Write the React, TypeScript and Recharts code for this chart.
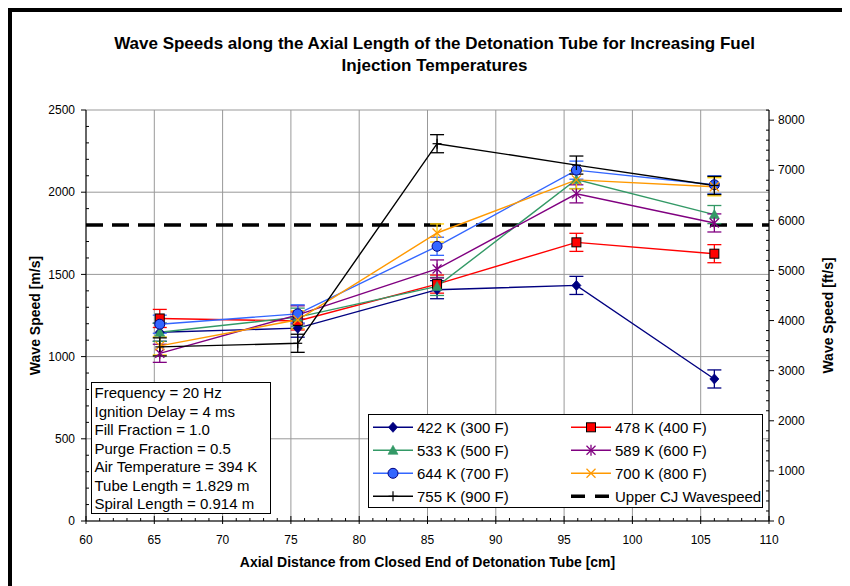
import React from "react";
import { LineChart, Line, XAxis, YAxis, CartesianGrid, ErrorBar } from "recharts";

// values (m/s)
const axialDistance = [65.4, 75.5, 85.7, 95.9, 106.0];
const speed422K = [1148, 1173, 1407, 1433, 864];
const speed478K = [1232, 1217, 1441, 1695, 1626];
const speed533K = [1148, 1240, 1427, 2077, 1864];
const speed589K = [1020, 1254, 1533, 1990, 1813];
const speed644K = [1197, 1260, 1671, 2134, 2045];
const speed700K = [1065, 1224, 1752, 2075, 2033];
const speed755K = [1059, 1081, 2295, 2165, 2041];
const speedError = [55, 55, 55, 55, 55];
const upperCJSpeed = 1800;
const cjRange = [60, 110];

const xMajorTicks = [60, 65, 70, 75, 80, 85, 90, 95, 100, 105, 110];
const yMajorTicks = [0, 500, 1000, 1500, 2000, 2500];
const ftMajorTicks = [0, 1000, 2000, 3000, 4000, 5000, 6000, 7000, 8000];
const xMinorTicks = Array.from({ length: 51 }, (_, i) => 60 + i);
const yMinorTicks = Array.from({ length: 26 }, (_, i) => i * 100);
const ftMinorTicks = Array.from({ length: 42 }, (_, i) => i * 200);
const FT_PER_M = 1 / 0.3048;

const runInfo = [
  "Frequency = 20 Hz",
  "Ignition Delay = 4 ms",
  "Fill Fraction = 1.0",
  "Purge Fraction = 0.5",
  "Air Temperature = 394 K",
  "Tube Length = 1.829 m",
  "Spiral Length = 0.914 m",
];

const series = [
  { name: "422 K (300 F)", values: speed422K, color: "#000080", bar: "#000080", shape: "diamond" },
  { name: "478 K (400 F)", values: speed478K, color: "#FF0000", bar: "#FF0000", shape: "square" },
  { name: "533 K (500 F)", values: speed533K, color: "#339966", bar: "#339966", shape: "triangle" },
  { name: "589 K (600 F)", values: speed589K, color: "#800080", bar: "#800080", shape: "star" },
  { name: "644 K (700 F)", values: speed644K, color: "#3366FF", bar: "#3366FF", shape: "circle" },
  { name: "700 K (800 F)", values: speed700K, color: "#FF9900", bar: "#FFCC00", shape: "x" },
  { name: "755 K (900 F)", values: speed755K, color: "#000000", bar: "#000000", shape: "plus" },
];

const W = 838;
const H = 574;
const PLOT = { left: 74, right: 757, top: 98, bottom: 509 };
const FONT = "Arial, 'Liberation Sans', Helvetica, sans-serif";

function drawMarker(shape: string, cx: number, cy: number, key?: any) {
  switch (shape) {
    case "diamond":
      return <polygon key={key} points={`${cx},${cy - 5} ${cx + 4.5},${cy} ${cx},${cy + 5} ${cx - 4.5},${cy}`} fill="#000080" stroke="#000080" strokeWidth={0.8} />;
    case "square":
      return <rect key={key} x={cx - 4.5} y={cy - 4.5} width={9} height={9} fill="#FF0000" stroke="#000" strokeWidth={1} />;
    case "triangle":
      return <polygon key={key} points={`${cx},${cy - 5} ${cx + 5},${cy + 4} ${cx - 5},${cy + 4}`} fill="#339966" stroke="#339966" strokeWidth={0.6} />;
    case "star":
      return (
        <g key={key} stroke="#800080" strokeWidth={1.3}>
          <line x1={cx} y1={cy - 5.5} x2={cx} y2={cy + 5.5} />
          <line x1={cx - 4.5} y1={cy - 4.5} x2={cx + 4.5} y2={cy + 4.5} />
          <line x1={cx - 4.5} y1={cy + 4.5} x2={cx + 4.5} y2={cy - 4.5} />
        </g>
      );
    case "circle":
      return <circle key={key} cx={cx} cy={cy} r={5} fill="#3366FF" stroke="#000080" strokeWidth={1} />;
    case "x":
      return (
        <g key={key} stroke="#FF9900" strokeWidth={1.3}>
          <line x1={cx - 4.5} y1={cy - 4.5} x2={cx + 4.5} y2={cy + 4.5} />
          <line x1={cx - 4.5} y1={cy + 4.5} x2={cx + 4.5} y2={cy - 4.5} />
        </g>
      );
    default:
      return (
        <g key={key} stroke="#000" strokeWidth={1.2}>
          <line x1={cx} y1={cy - 5} x2={cx} y2={cy + 5} />
          <line x1={cx - 4.5} y1={cy} x2={cx + 4.5} y2={cy} />
        </g>
      );
  }
}

const XTick = (props: any) => {
  const { x, payload } = props;
  const major = payload.value % 5 === 0;
  return (
    <g>
      <line x1={x} x2={x} y1={PLOT.bottom - (major ? 5 : 3)} y2={PLOT.bottom + (major ? 3 : 0)} stroke="#000" />
      {major && (
        <text x={x} y={PLOT.bottom + 23} textAnchor="middle" fontSize={12} fontFamily={FONT} fill="#000">
          {payload.value}
        </text>
      )}
    </g>
  );
};

const LeftTick = (props: any) => {
  const { y, payload } = props;
  const major = payload.value % 500 === 0;
  return (
    <g>
      <line x1={PLOT.left - (major ? 5 : 0)} x2={PLOT.left + (major ? 0 : 3)} y1={y} y2={y} stroke="#000" />
      {major && (
        <text x={PLOT.left - 11} y={y + 4.2} textAnchor="end" fontSize={12} fontFamily={FONT} fill="#000">
          {payload.value}
        </text>
      )}
    </g>
  );
};

const RightTick = (props: any) => {
  const { y, payload } = props;
  const major = payload.value % 1000 === 0;
  return (
    <g>
      <line x1={PLOT.right - (major ? 0 : 3)} x2={PLOT.right + (major ? 5 : 0)} y1={y} y2={y} stroke="#000" />
      {major && (
        <text x={PLOT.right + 9} y={y + 4.2} textAnchor="start" fontSize={12} fontFamily={FONT} fill="#000">
          {payload.value}
        </text>
      )}
    </g>
  );
};

export default function App() {
  const cjData = cjRange.map((x) => ({ x, y: upperCJSpeed }));
  const midY = (PLOT.top + PLOT.bottom) / 2;

  return (
    <div
      style={{
        position: "relative",
        width: 842,
        height: 578,
        boxSizing: "border-box",
        borderTop: "4px solid #000",
        borderLeft: "4px solid #000",
        overflow: "hidden",
        background: "#fff",
      }}
    >
      <style>{"html,body{overflow:hidden}"}</style>
      <LineChart width={W} height={H} margin={{ top: 98, right: 21, bottom: 35, left: 14 }}>
        <CartesianGrid xAxisId="x" yAxisId="m" stroke="#999" horizontalValues={yMajorTicks} verticalValues={xMajorTicks} />
        <XAxis
          xAxisId="x"
          type="number"
          dataKey="x"
          domain={[60, 110]}
          allowDataOverflow
          ticks={xMinorTicks}
          interval={0}
          tick={<XTick />}
          tickLine={false}
          axisLine={{ stroke: "#000" }}
          height={30}
        />
        <YAxis
          yAxisId="m"
          type="number"
          domain={[0, 2500]}
          allowDataOverflow
          ticks={yMinorTicks}
          interval={0}
          tick={<LeftTick />}
          tickLine={false}
          axisLine={{ stroke: "#000" }}
          width={60}
        />
        <YAxis
          yAxisId="ft"
          orientation="right"
          type="number"
          domain={[0, 2500 * FT_PER_M]}
          allowDataOverflow
          ticks={ftMinorTicks}
          interval={0}
          tick={<RightTick />}
          tickLine={false}
          axisLine={{ stroke: "#000" }}
          width={60}
        />
        <Line
          data={cjData}
          dataKey="y"
          xAxisId="x"
          yAxisId="m"
          stroke="#000"
          strokeWidth={3.5}
          strokeDasharray="17 9"
          dot={false}
          activeDot={false}
          isAnimationActive={false}
        />
        {series.map((s) => (
          <Line
            key={s.name}
            name={s.name}
            data={s.values.map((y, i) => ({ x: axialDistance[i], y, err: speedError[i] }))}
            dataKey="y"
            xAxisId="x"
            yAxisId="m"
            stroke={s.color}
            strokeWidth={1.4}
            dot={(p: any) => drawMarker(s.shape, p.cx, p.cy, `${s.name}-${p.index}`)}
            activeDot={false}
            isAnimationActive={false}
          >
            <ErrorBar dataKey="err" direction="y" width={7} stroke={s.bar} strokeWidth={1.3} />
          </Line>
        ))}
      </LineChart>

      <svg width={W} height={H} style={{ position: "absolute", left: 0, top: 0, pointerEvents: "none" }} fontFamily={FONT}>
        <text x={422.5} y={37} textAnchor="middle" fontSize={17} fontWeight="bold" fill="#000">
          Wave Speeds along the Axial Length of the Detonation Tube for Increasing Fuel
        </text>
        <text x={422.5} y={59} textAnchor="middle" fontSize={17} fontWeight="bold" fill="#000">
          Injection Temperatures
        </text>
        <text transform={`translate(23,${midY}) rotate(-90)`} x={0} y={5} textAnchor="middle" fontSize={14} fontWeight="bold" fill="#000">
          Wave Speed [m/s]
        </text>
        <text transform={`translate(816,${midY}) rotate(-90)`} x={0} y={5} textAnchor="middle" fontSize={14} fontWeight="bold" fill="#000">
          Wave Speed [ft/s]
        </text>
        <text x={(PLOT.left + PLOT.right) / 2} y={555} textAnchor="middle" fontSize={14} fontWeight="bold" fill="#000">
          Axial Distance from Closed End of Detonation Tube [cm]
        </text>

        {/* run conditions box */}
        <g transform="translate(79,370)">
          <rect x={0.5} y={0.5} width={179} height={131} fill="#fff" stroke="#000" />
          {runInfo.map((t, i) => (
            <text key={t} x={3.5} y={16 + i * 18.55} fontSize={15} fill="#000">
              {t}
            </text>
          ))}
        </g>

        {/* legend */}
        <g transform="translate(356,402)">
          <rect x={0.5} y={0.5} width={394} height={93} fill="#fff" stroke="#000" />
          {[...series.map((s) => ({ name: s.name, color: s.color, shape: s.shape })), { name: "Upper CJ Wavespeed", color: "#000", shape: "cj" }].map(
            (item, i) => {
              const col = i % 2;
              const row = Math.floor(i / 2);
              const lx = col === 0 ? 5 : 203;
              const cy = 13.3 + row * 23;
              return (
                <g key={item.name}>
                  {item.shape === "cj" ? (
                    <line x1={lx} x2={lx + 40} y1={cy} y2={cy} stroke="#000" strokeWidth={3.5} strokeDasharray="14 10" />
                  ) : (
                    <>
                      <line x1={lx} x2={lx + 40} y1={cy} y2={cy} stroke={item.color} strokeWidth={1.4} />
                      {drawMarker(item.shape, lx + 20, cy)}
                    </>
                  )}
                  <text x={lx + 44} y={cy + 5.3} fontSize={15} fill="#000">
                    {item.name}
                  </text>
                </g>
              );
            }
          )}
        </g>
      </svg>
    </div>
  );
}
